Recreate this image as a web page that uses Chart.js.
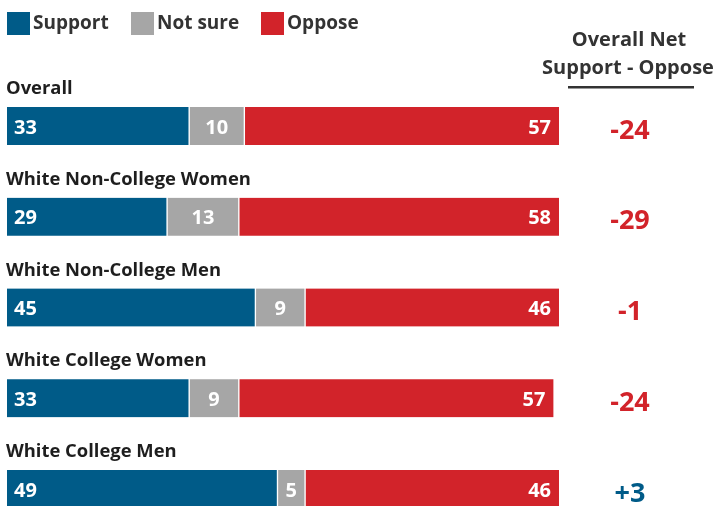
<!DOCTYPE html>
<html>
<head>
<meta charset="utf-8">
<script src="https://cdn.jsdelivr.net/npm/chart.js@4/dist/chart.umd.min.js"></script>
<style>
  html, body { margin: 0; padding: 0; background: #fff; }
  #wrap { width: 715px; height: 506px; position: relative; }
</style>
</head>
<body>
<div id="wrap"><canvas id="chart" width="715" height="506"></canvas></div>
<script>
const groups = [
  "Overall",
  "White Non-College Women",
  "White Non-College Men",
  "White College Women",
  "White College Men",
];
const support = [33, 29, 45, 33, 49];
const notSure = [10, 13, 9, 9, 5];
const oppose = [57, 58, 46, 57, 46];

const BLUE = "#005b88";
const GRAY = "#a6a6a6";
const RED = "#d2232a";
const INK = "#1e1e1e";
const FONT = "'Open Sans', Lato, sans-serif";

// legend, group titles, value labels and the net column
const annotations = {
  id: "annotations",
  afterDatasetsDraw(chart) {
    const { ctx } = chart;
    const yScale = chart.scales.y;
    ctx.save();

    // legend
    const legend = [["Support", BLUE, 7], ["Not sure", GRAY, 131], ["Oppose", RED, 261]];
    ctx.font = "bold 19px " + FONT;
    ctx.textBaseline = "middle";
    ctx.textAlign = "left";
    legend.forEach(([text, color, x]) => {
      ctx.fillStyle = color;
      ctx.fillRect(x, 12, 23, 23);
      ctx.fillStyle = "#333";
      ctx.fillText(text, x + 26, 24);
    });

    // net column header
    ctx.font = "bold 20px " + FONT;
    ctx.textAlign = "center";
    ctx.fillStyle = "#333";
    ctx.fillText("Overall Net", 629, 40);
    ctx.fillText("Support - Oppose", 628, 68);
    ctx.fillRect(568, 86, 126, 2.5);

    groups.forEach((name, i) => {
      const yc = yScale.getPixelForValue(i);

      ctx.font = "bold 18.4px " + FONT;
      ctx.textAlign = "left";
      ctx.fillStyle = INK;
      ctx.fillText(name, 6, yc - 37);

      // value labels inside the segments
      ctx.font = "bold 20px " + FONT;
      ctx.fillStyle = "#fff";
      chart.data.datasets.forEach((ds, d) => {
        const bar = chart.getDatasetMeta(d).data[i];
        const left = Math.min(bar.x, bar.base);
        const right = Math.max(bar.x, bar.base);
        const v = ds.data[i];
        if (d === 0) {
          ctx.textAlign = "left";
          ctx.fillText(v, left + 7, yc + 2);
        } else if (d === 1) {
          ctx.textAlign = "center";
          ctx.fillText(v, (left + right) / 2, yc + 2);
        } else {
          ctx.textAlign = "right";
          ctx.fillText(v, right - 8, yc + 2);
        }
      });

      // net support minus oppose
      const net = support[i] - oppose[i];
      ctx.font = "bold 27px " + FONT;
      ctx.textAlign = "center";
      ctx.fillStyle = net > 0 ? BLUE : RED;
      ctx.fillText(net > 0 ? "+" + net : String(net), 630, yc + 5);
    });

    ctx.restore();
  },
};

new Chart(document.getElementById("chart"), {
  type: "bar",
  data: {
    labels: groups,
    datasets: [
      { label: "Support", data: support, backgroundColor: BLUE,
        borderWidth: { right: 1 } },
      { label: "Not sure", data: notSure, backgroundColor: GRAY,
        borderWidth: { left: 1, right: 1 } },
      { label: "Oppose", data: oppose, backgroundColor: RED,
        borderWidth: { left: 1 } },
    ],
  },
  options: {
    indexAxis: "y",
    responsive: false,
    animation: false,
    layout: { padding: { left: 7, right: 156, top: 126, bottom: 17 } },
    datasets: {
      bar: {
        barThickness: 38,
        borderColor: "#fff",
        borderSkipped: false,
        clip: false,
      },
    },
    scales: {
      x: { stacked: true, min: 0, max: 100, display: false },
      y: { stacked: true, display: false, offset: false },
    },
    plugins: {
      legend: { display: false },
      tooltip: { enabled: false },
    },
  },
  plugins: [annotations],
});
</script>
</body>
</html>
